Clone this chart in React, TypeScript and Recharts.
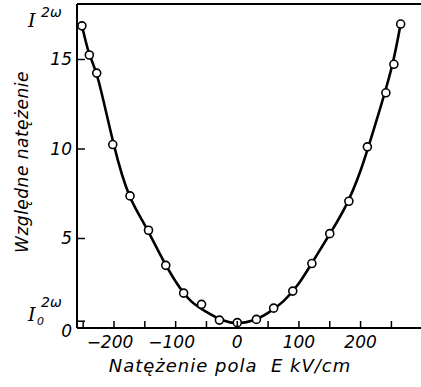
import React from "react";
import {
  ComposedChart,
  Line,
  Scatter,
  XAxis,
  YAxis,
  ReferenceLine,
} from "recharts";

// measured points (field kV/cm, relative intensity)
const measuredField = [
  -252, -240, -228, -202, -174, -144, -116, -87, -58, -29, 0, 31, 59, 90, 121,
  150, 181, 211, 241, 254, 265,
];
const measuredIntensity = [
  16.88, 15.25, 14.24, 10.25, 7.38, 5.46, 3.5, 1.95, 1.32, 0.44, 0.3, 0.48,
  1.11, 2.06, 3.6, 5.27, 7.08, 10.12, 13.14, 14.73, 16.98,
];

// fitted curve
const curveField = [
  -252, -240, -225, -200, -175, -150, -125, -100, -75, -50, -25, 0, 25, 50, 75,
  100, 125, 150, 175, 200, 225, 250, 265,
];
const curveIntensity = [
  16.9, 15.3, 13.8, 10.2, 7.4, 5.75, 4.1, 2.6, 1.5, 0.9, 0.45, 0.28, 0.42,
  0.85, 1.5, 2.5, 3.85, 5.25, 6.75, 8.8, 11.5, 14.5, 17.0,
];

const xTicks = [-250, -200, -150, -100, -50, 0, 50, 100, 150, 200, 250];
const yTicks = [0, 0.38, 5, 10, 15];

const points = measuredField.map((x, i) => ({ x, y: measuredIntensity[i] }));
const curve = curveField.map((x, i) => ({ x, y: curveIntensity[i] }));

const font = "'DejaVu Sans', sans-serif";

const XTick = (props: any) => {
  const { x, y, payload } = props;
  const v = payload.value;
  const label = v % 100 === 0 ? (v < 0 ? "\u2212" + Math.abs(v) : String(v)) : "";
  return (
    <g>
      <line x1={x} y1={y} x2={x} y2={y - 7} stroke="#000" strokeWidth={1.5} />
      {label && (
        <text
          x={v < 0 ? x - 4 : x}
          y={y + 20}
          textAnchor="middle"
          fontSize={17}
          fontStyle="italic"
          fontFamily={font}
          fill="#000"
        >
          {label}
        </text>
      )}
    </g>
  );
};

const YTick = (props: any) => {
  const { x, y, payload } = props;
  const v = payload.value;
  const label = Number.isInteger(v) ? String(v) : "";
  return (
    <g>
      {v !== 0 && (
        <line x1={x} y1={y} x2={x + 8} y2={y} stroke="#000" strokeWidth={1.5} />
      )}
      {label && (
        <text
          x={x - 5}
          y={y + (v === 0 ? 9 : 6)}
          textAnchor="end"
          fontSize={17}
          fontStyle="italic"
          fontFamily={font}
          fill="#000"
        >
          {label}
        </text>
      )}
    </g>
  );
};

const OpenDot = (props: any) => {
  const { cx, cy } = props;
  return <circle cx={cx} cy={cy} r={4} fill="#fff" stroke="#000" strokeWidth={1.6} />;
};

export default function App() {
  return (
    <div
      style={{
        position: "fixed",
        left: 0,
        top: 0,
        width: 421,
        height: 387,
        overflow: "hidden",
        background: "#fff",
      }}
    >
      <ComposedChart
        width={421}
        height={387}
        margin={{ top: 4, right: 0, bottom: 0, left: 0 }}
      >
        <XAxis
          type="number"
          dataKey="x"
          domain={[-260, 298]}
          ticks={xTicks}
          interval={0}
          tick={<XTick />}
          tickLine={false}
          tickSize={0}
          tickMargin={0}
          height={59}
          axisLine={{ stroke: "#000", strokeWidth: 2 }}
          allowDataOverflow
        />
        <YAxis
          type="number"
          dataKey="y"
          domain={[0, 18.1]}
          ticks={yTicks}
          interval={0}
          tick={<YTick />}
          tickLine={false}
          tickSize={0}
          tickMargin={0}
          width={77}
          axisLine={{ stroke: "#000", strokeWidth: 2 }}
          allowDataOverflow
        />
        <ReferenceLine y={18.1} stroke="#000" strokeWidth={2} ifOverflow="visible" />
        <Line
          data={curve}
          dataKey="y"
          type="natural"
          stroke="#000"
          strokeWidth={2.6}
          dot={false}
          isAnimationActive={false}
        />
        <Scatter
          data={points}
          dataKey="y"
          shape={<OpenDot />}
          isAnimationActive={false}
        />
        <text
          x={230}
          y={372}
          textAnchor="middle"
          fontSize={18}
          letterSpacing={1}
          fontStyle="italic"
          fontFamily={font}
          fill="#000"
          style={{ whiteSpace: "pre" }}
        >
          {"Natężenie pola  E kV/cm"}
        </text>
        <text
          x={0}
          y={0}
          transform="translate(28,162) rotate(-90)"
          textAnchor="middle"
          fontSize={17}
          letterSpacing={0.5}
          fontStyle="italic"
          fontFamily={font}
          fill="#000"
        >
          Względne natężenie
        </text>
        <text x={28} y={27} fontSize={19} fontStyle="italic" fontFamily="'DejaVu Serif', serif" fill="#000">
          I
        </text>
        <text x={41} y={17} fontSize={14} fontStyle="italic" fontFamily={font} fill="#000">
          2ω
        </text>
        <text x={28} y={321} fontSize={19} fontStyle="italic" fontFamily="'DejaVu Serif', serif" fill="#000">
          I
        </text>
        <text x={37} y={325} fontSize={11} fontStyle="italic" fontFamily={font} fill="#000">
          0
        </text>
        <text x={41} y={307} fontSize={14} fontStyle="italic" fontFamily={font} fill="#000">
          2ω
        </text>
      </ComposedChart>
    </div>
  );
}
